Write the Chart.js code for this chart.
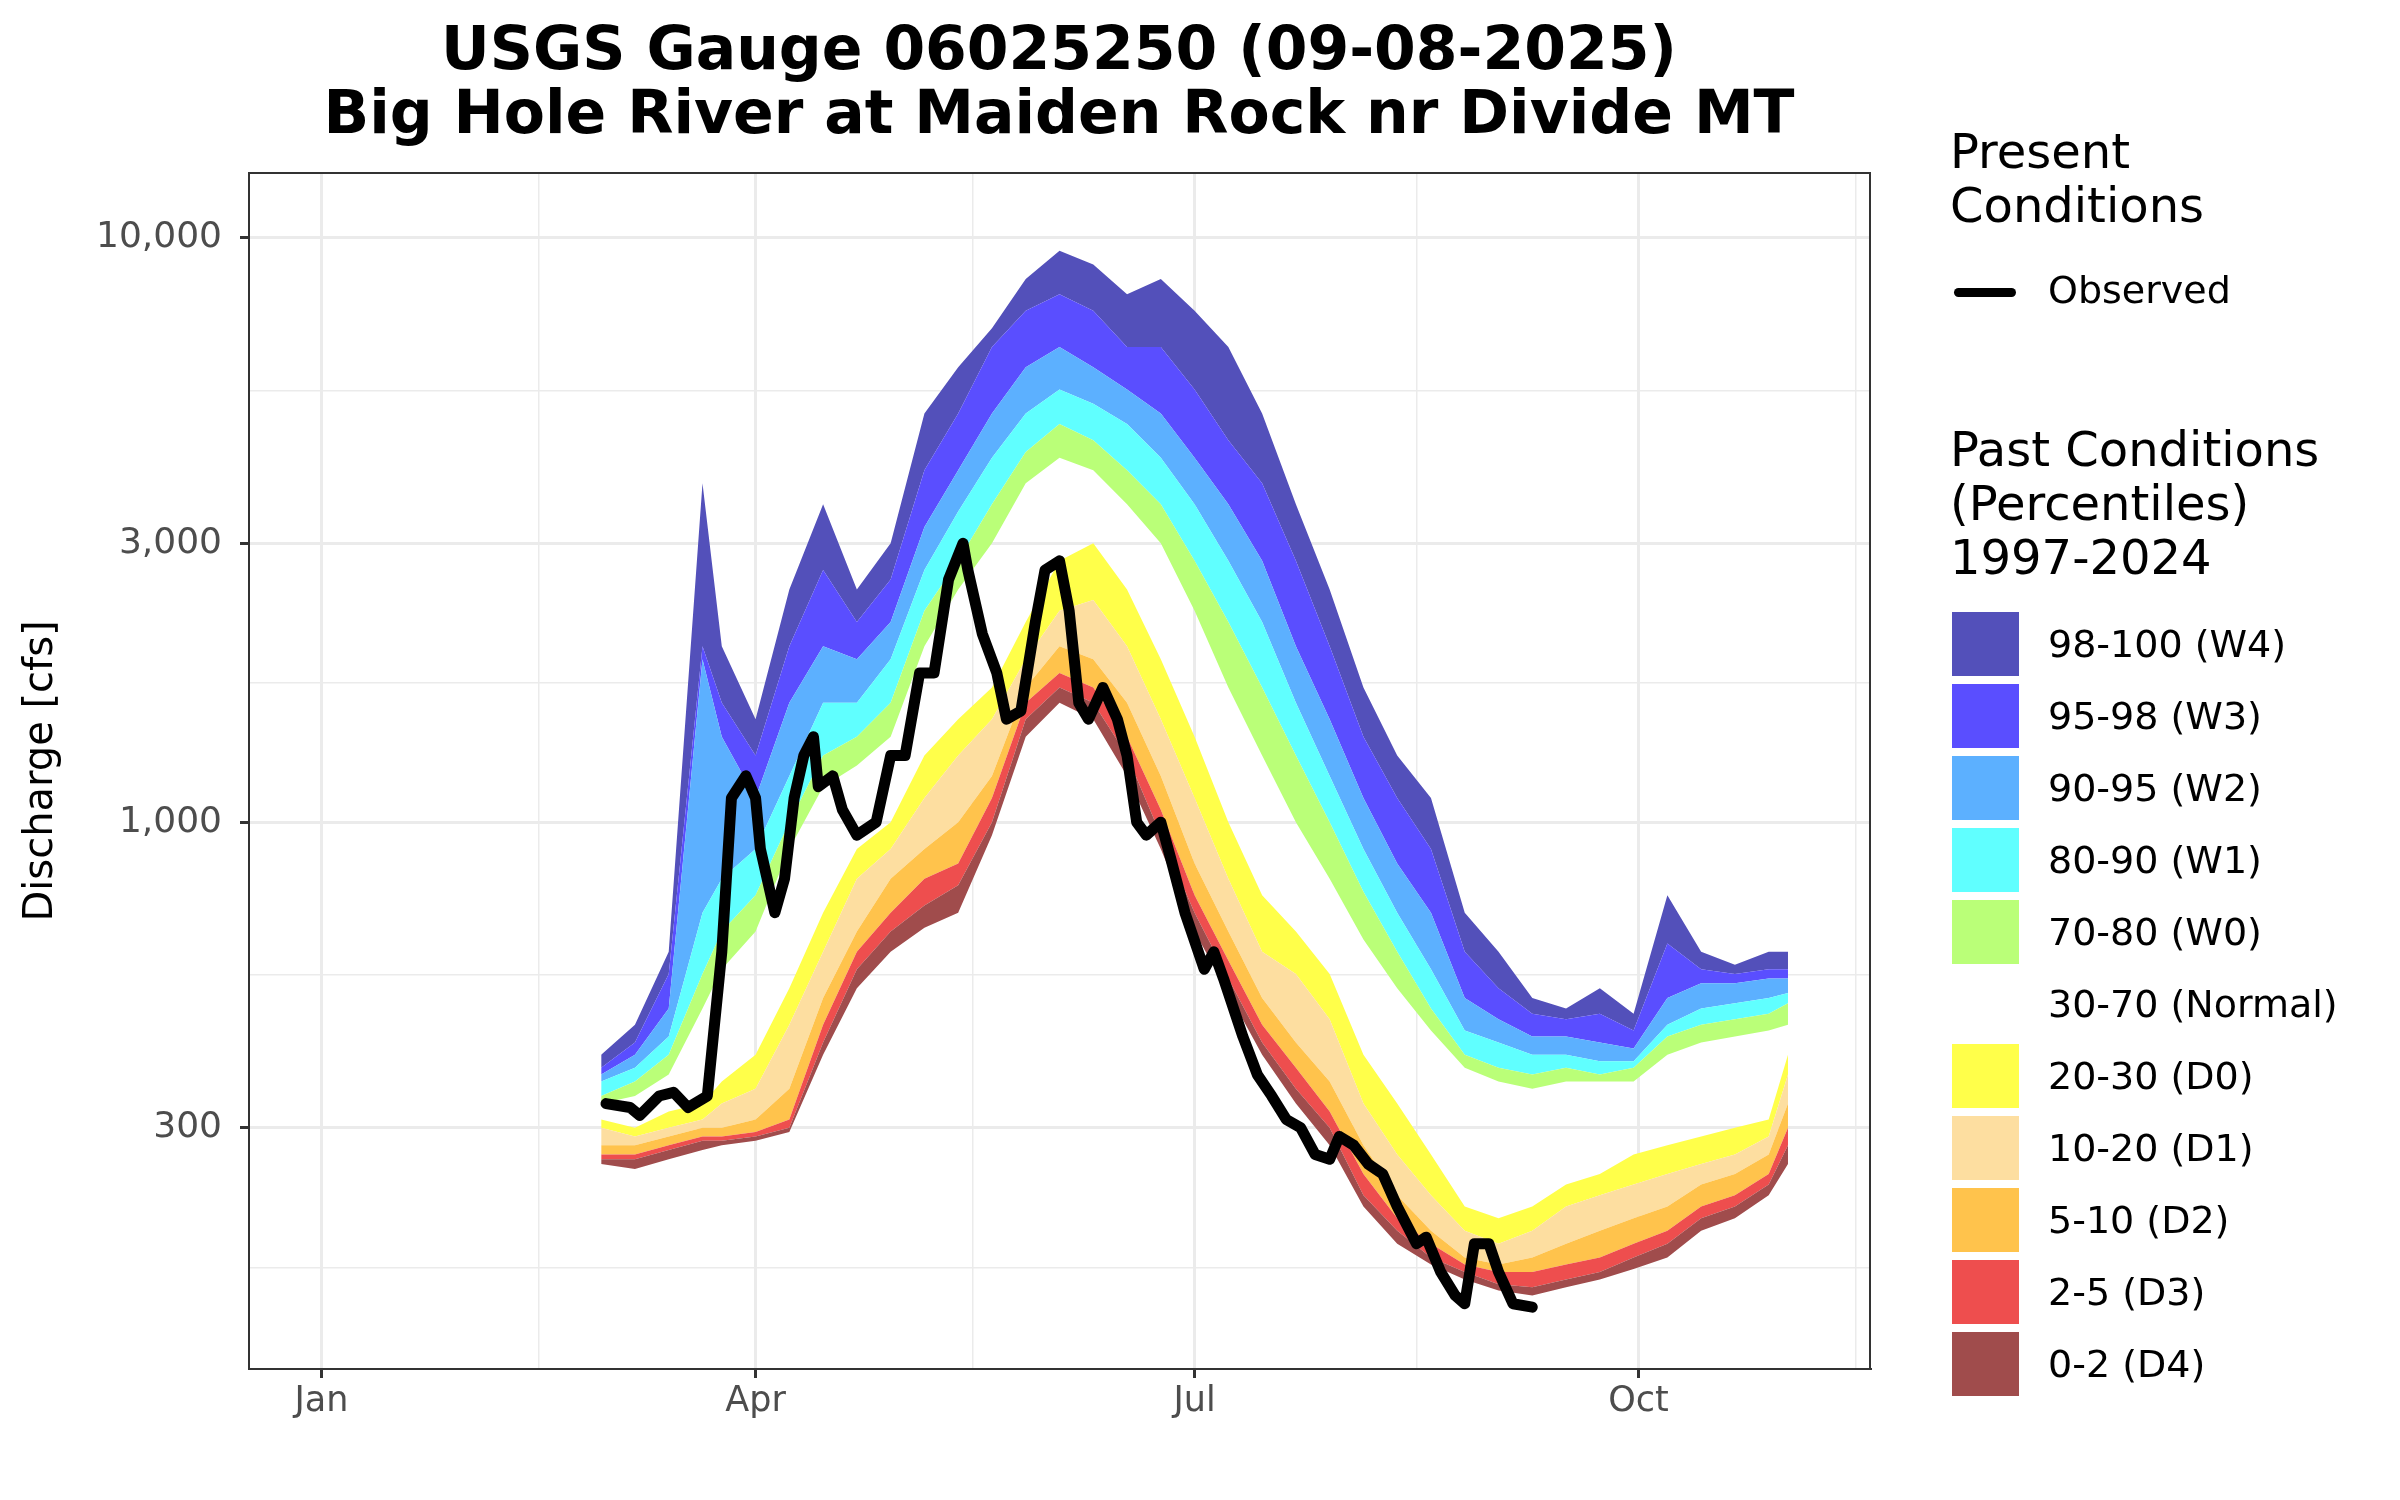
<!DOCTYPE html>
<html>
<head>
<meta charset="utf-8">
<script src="https://cdn.jsdelivr.net/npm/chart.js@4.4.0/dist/chart.umd.min.js"></script>
<style>
  body { margin: 0; background: #fff; font-family: "DejaVu Sans", sans-serif; }
  #wrap { position: relative; width: 2400px; height: 1500px; }
  #title { position: absolute; left: 249px; width: 1620px; top: 16px; text-align: center;
           font-weight: bold; font-size: 60px; line-height: 64px; color: #000; }
  #legend { position: absolute; left: 1950px; top: 124px; color: #000; white-space: nowrap; }
  .lt { font-size: 48px; line-height: 54px; }
  .row { position: relative; height: 72px; }
  .sw { position: absolute; left: 2px; top: 4px; width: 67px; height: 64px; }
  .lab { position: absolute; left: 98px; top: 14px; font-size: 38px; }
</style>
</head>
<body>
<div id="wrap">
  <canvas id="myChart" width="2400" height="1500"></canvas>
  <div id="title">USGS Gauge 06025250 (09-08-2025)<br>Big Hole River at Maiden Rock nr Divide MT</div>
  <div id="legend"></div>
</div>
<script>
// day of year for the percentile bands
const days = [59, 66, 73, 80, 84, 91, 98, 105, 112, 119, 126, 133, 140, 147, 154, 161, 168, 175, 182,
  189, 196, 203, 210, 217, 224, 231, 238, 245, 252, 259, 266, 273, 280, 287, 294, 301, 305];

const p0 = [260,255,265,275,280,285,295,400,520,600,660,700,950,1400,1600,1500,1200,900,650,510,400,330,280,220,190,175,165,158,155,160,165,172,180,200,210,230,260];
const p2 = [265,265,275,285,285,290,300,420,560,650,720,780,1000,1500,1700,1600,1300,950,700,540,420,350,300,230,200,180,170,162,160,165,170,180,190,210,220,240,280];
const p5 = [270,270,280,290,290,295,310,450,600,700,800,850,1100,1600,1800,1700,1400,1050,750,580,450,380,320,250,210,190,175,170,170,175,180,190,200,220,230,250,300];
const p10 = [280,280,290,300,300,310,350,500,650,800,900,1000,1200,1700,2000,1900,1600,1200,850,650,500,420,360,280,230,200,180,175,180,190,200,210,220,240,250,270,330];
const p20 = [300,290,300,310,330,350,450,600,800,900,1100,1300,1500,1900,2300,2400,2000,1500,1100,800,600,550,460,330,270,230,200,190,200,220,230,240,250,260,270,290,370];
const p30 = [310,300,320,330,360,400,520,700,900,1000,1300,1500,1700,2200,2800,3000,2500,1900,1400,1000,750,650,550,400,330,270,220,210,220,240,250,270,280,290,300,310,400];
const p70 = [330,340,370,480,560,650,900,1150,1250,1400,2000,2500,3000,3800,4200,4000,3500,3000,2300,1700,1300,1000,800,630,520,440,380,360,350,360,360,360,400,420,430,440,450];
const p80 = [340,360,400,550,650,750,1000,1300,1400,1600,2300,2800,3500,4300,4800,4500,4000,3500,2800,2200,1700,1300,1000,760,600,480,400,380,370,380,370,380,430,450,460,470,490];
const p90 = [360,380,430,700,800,900,1200,1600,1600,1900,2700,3400,4200,5000,5500,5200,4800,4200,3500,2800,2200,1600,1200,900,700,560,440,420,400,400,390,390,450,480,490,500,510];
const p95 = [370,400,480,1900,1400,1100,1600,2000,1900,2200,3200,4000,5000,6000,6500,6000,5500,5000,4200,3500,2800,2000,1500,1100,850,700,500,460,430,430,420,410,500,530,530,540,540];
const p98 = [380,420,550,2000,1600,1300,2000,2700,2200,2600,4000,5000,6500,7500,8000,7500,6500,6500,5500,4500,3800,2800,2000,1400,1100,900,600,520,470,460,470,440,620,560,550,560,560];
const p100 = [400,450,600,3800,2000,1500,2500,3500,2500,3000,5000,6000,7000,8500,9500,9000,8000,8500,7500,6500,5000,3500,2500,1700,1300,1100,700,600,500,480,520,470,750,600,570,600,600];

// observed 2025 discharge
const obsDays = [60,65,67,71,74,77,81,84,86,89,91,92,95,97,99,101,103,104,107,109,112,116,119,122,125,128,131,134,135,138,141,143,146,149,151,154,156,158,160,163,166,168,170,172,175,177,180,184,186,188,192,195,198,201,204,207,210,212,215,218,221,224,228,230,233,236,238,240,243,245,248,252];
const obsVals = [330,325,315,340,345,325,340,600,1100,1200,1100,900,700,800,1100,1300,1400,1150,1200,1050,950,1000,1300,1300,1800,1800,2600,3000,2700,2100,1800,1500,1550,2200,2700,2800,2300,1600,1500,1700,1500,1300,1000,950,1000,870,700,560,600,540,430,370,340,310,300,270,265,290,280,260,250,220,190,195,170,155,150,190,190,170,150,148];

const bands = [
  { label: "98-100 (W4)", color: "rgb(83,80,186)", top: p100 },
  { label: "95-98 (W3)", color: "rgb(90,78,255)", top: p98 },
  { label: "90-95 (W2)", color: "rgb(92,176,255)", top: p95 },
  { label: "80-90 (W1)", color: "rgb(96,255,255)", top: p90 },
  { label: "70-80 (W0)", color: "rgb(186,255,120)", top: p80 },
  { label: "30-70 (Normal)", color: "rgba(255,255,255,0)", top: p70 },
  { label: "20-30 (D0)", color: "rgb(255,255,74)", top: p30 },
  { label: "10-20 (D1)", color: "rgb(253,222,160)", top: p20 },
  { label: "5-10 (D2)", color: "rgb(255,195,76)", top: p10 },
  { label: "2-5 (D3)", color: "rgb(238,78,78)", top: p5 },
  { label: "0-2 (D4)", color: "rgb(160,76,76)", top: p2 }
];

const pts = (xs, ys) => xs.map((d, i) => ({ x: d, y: ys[i] }));

const datasets = [{
  label: "Observed", data: pts(obsDays, obsVals), borderColor: "#000", borderWidth: 11,
  pointRadius: 0, fill: false, order: 0, borderCapStyle: "round", borderJoinStyle: "round"
}];
datasets.push({ label: "p0", data: pts(days, p0), borderWidth: 0, pointRadius: 0, fill: false, order: 1 });
bands.slice().reverse().forEach(b => {
  datasets.push({
    label: b.label, data: pts(days, b.top), borderWidth: 0, pointRadius: 0, order: 1,
    fill: b.label.indexOf("Normal") >= 0 ? false : "-1", backgroundColor: b.color
  });
});

const xMajor = [1, 91, 182, 274];
const xLabels = { 1: "Jan", 91: "Apr", 182: "Jul", 274: "Oct" };
const yMajor = [300, 1000, 3000, 10000];
const yTicks = [173, 300, 548, 1000, 1732, 3000, 5477, 10000];

const ctx = document.getElementById("myChart").getContext("2d");
new Chart(ctx, {
  type: "line",
  data: { datasets: datasets },
  options: {
    responsive: false, animation: false, devicePixelRatio: 1,
    layout: { padding: { top: 173, right: 530, left: 14, bottom: 0 } },
    plugins: { legend: { display: false }, tooltip: { enabled: false } },
    scales: {
      x: {
        type: "linear", min: -14, max: 322,
        afterBuildTicks: s => { s.ticks = [1, 46, 91, 136, 182, 228, 274, 319].map(v => ({ value: v })); },
        afterFit: s => { s.height = 131; },
        ticks: { autoSkip: false, maxRotation: 0, color: "#4d4d4d", font: { size: 35, family: "DejaVu Sans" },
          callback: v => xLabels[v] || "" },
        grid: { color: "#ebebeb", lineWidth: c => xMajor.includes(c.tick && c.tick.value) ? 3 : 1.5,
          tickColor: c => xMajor.includes(c.tick && c.tick.value) ? "#333" : "rgba(0,0,0,0)", tickLength: 9 },
        border: { color: "#333", width: 2 }
      },
      y: {
        type: "logarithmic", min: 116, max: 12900,
        afterBuildTicks: s => { s.ticks = yTicks.map(v => ({ value: v })); },
        afterFit: s => { s.width = 235; },
        title: { display: true, text: "Discharge [cfs]", color: "#000", font: { size: 40, family: "DejaVu Sans" }, padding: { bottom: 4 } },
        ticks: { autoSkip: false, padding: 18, color: "#4d4d4d", font: { size: 36, family: "DejaVu Sans" },
          callback: v => yMajor.includes(v) ? v.toLocaleString("en-US") : "" },
        grid: { color: "#ebebeb", lineWidth: c => yMajor.includes(c.tick && c.tick.value) ? 3 : 1.5,
          tickColor: c => yMajor.includes(c.tick && c.tick.value) ? "#333" : "rgba(0,0,0,0)", tickLength: 9 },
        border: { color: "#333", width: 2 }
      }
    }
  },
  plugins: [{
    id: "frame",
    afterDraw: c => {
      const a = c.chartArea, g = c.ctx;
      g.save(); g.strokeStyle = "#333"; g.lineWidth = 2;
      g.strokeRect(a.left, a.top, a.right - a.left, a.bottom - a.top); g.restore();
    }
  }]
});

// legend
let html = '<div class="lt">Present<br>Conditions</div>' +
  '<div style="position:relative;height:112px"><div style="position:absolute;left:4px;top:56px;width:62px;height:9px;background:#000;border-radius:5px"></div>' +
  '<div class="lab" style="top:36px">Observed</div></div>' +
  '<div class="lt" style="margin-top:78px;margin-bottom:24px">Past Conditions<br>(Percentiles)<br>1997-2024</div>';
bands.forEach(b => {
  html += '<div class="row"><div class="sw" style="background:' + b.color + '"></div><div class="lab">' + b.label + '</div></div>';
});
document.getElementById("legend").innerHTML = html;
</script>
</body>
</html>
